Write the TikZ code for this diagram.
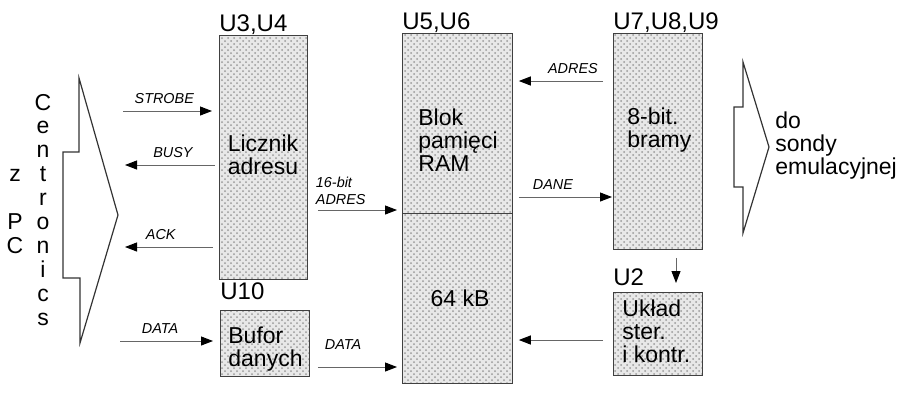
\documentclass[tikz,border=0pt]{standalone}
\usepackage{fontspec}
\setmainfont{Liberation Sans}
\usetikzlibrary{arrows.meta, positioning, patterns, calc}

\begin{document}
\begin{tikzpicture}[
    x=0.5pt, y=-0.5pt,
    blok/.style={draw=black!75, thin, preaction={fill=black!9}, pattern=crosshatch dots, pattern color=black!40, anchor=north west, inner sep=0pt},
    txt/.style={font=\fontsize{11.5}{11.5}\selectfont, align=left, inner sep=0pt},
    num/.style={font=\fontsize{12}{12}\selectfont, anchor=base west, inner sep=0pt},
    lbl/.style={font=\fontsize{7.2}{8.5}\selectfont\itshape, inner sep=0pt, above=3.5pt},
    arr/.style={-{Triangle[length=6pt, width=4.5pt, color=black]}, draw=black!60, line width=0.5pt},
    szyna/.style={draw=black!80, line width=0.6pt, line join=miter}
]
\useasboundingbox (0,0) rectangle (900,398);

% wejscie z PC
\draw[szyna] (79,78) -- (118,215) -- (80,343) -- (80,278) -- (63,278) -- (63,152) -- (79,152) -- cycle;
\foreach \ch [count=\i from 0] in {C,e,n,t,r,o,n,i,c,s}
  \node[txt, anchor=base] (cen\i) at (43,110+23.9*\i) {\ch};
\foreach \ch/\i in {z/3, P/5, C/6}
  \node[txt, anchor=base] (pc\i) at (15,110+23.9*\i) {\ch};

% bloki
\node[blok, minimum width=44pt, minimum height=122pt] (u34) at (219,35) {};
\node[blok, minimum width=55pt, minimum height=90pt] (ramtop) at (402,33) {};
\node[blok, minimum width=55pt, minimum height=85pt] (rambot) at (402,213) {};
\node[blok, minimum width=44.5pt, minimum height=108pt] (u789) at (613,33) {};
\node[blok, minimum width=44.5pt, minimum height=33pt] (u10) at (220,310) {};
\node[blok, minimum width=44.5pt, minimum height=41.5pt] (u2) at (613,292) {};

\node[num] (u34n) at (219,31) {U3,U4};
\node[num] (ramn) at (402,29) {U5,U6};
\node[num] (u789n) at (613,29) {U7,U8,U9};
\node[num] (u10n) at (220,299) {U10};
\node[num] (u2n) at (613,285) {U2};

\node[txt, align=center] (licznik) at (263,155) {Licznik\\adresu};
\node[txt, anchor=west] (pamiec) at (418,140) {Blok\\pamięci\\RAM};
\node[txt] (kb) at (460,298) {64 kB};
\node[txt, anchor=west] (bramy) at (627,130) {8-bit.\\bramy};
\node[txt, anchor=west] (bufor) at (228,349) {Bufor\\danych};
\node[txt, anchor=west] (uklad) at (622,331) {Układ\\ster.\\i kontr.};

% wyjscie do sondy
\draw[szyna] (743,62) -- (769,147) -- (743,233) -- (743,187) -- (734,187) -- (734,107) -- (743,107) -- cycle;
\node[txt, anchor=west] (sonda) at (775,146) {do\\sondy\\emulacyjnej};

% sygnaly
\coordinate (strobe) at (123,111);
\coordinate (busy) at (125,165);
\coordinate (ack) at (125,247);
\coordinate (data) at (120,341);
\draw[arr, shorten >=3.5pt] (strobe) -- (strobe -| u34.west) node[lbl, pos=0.43] {STROBE};
\draw[arr, shorten <=2pt] (busy -| u34.west) -- (busy) node[lbl, pos=0.49] {BUSY};
\draw[arr, shorten <=3pt] (ack -| u34.west) -- (ack) node[lbl, pos=0.62] {ACK};
\draw[arr, shorten >=3.5pt] (data) -- (data -| u10.west) node[lbl, pos=0.4] {DATA};

\coordinate (adr) at (0,210);
\coordinate (dat) at (0,367);
\draw[arr, shorten <=5pt, shorten >=2.5pt] (adr -| u34.east) -- (adr -| ramtop.west)
  node[lbl, pos=0.35, above=2.5pt, align=left] {16-bit\\ADRES};
\draw[arr, shorten <=4pt, shorten >=2.5pt] (dat -| u10.east) -- (dat -| rambot.west)
  node[lbl, pos=0.36, above=8.5pt] {DATA};

\coordinate (adr2) at (0,81);
\coordinate (dane) at (0,197);
\coordinate (ster) at (0,340);
\draw[arr, shorten <=5pt, shorten >=3pt] (adr2 -| u789.west) -- (adr2 -| ramtop.east) node[lbl, pos=0.4] {ADRES};
\draw[arr, shorten <=3pt, shorten >=0.5pt] (dane -| ramtop.east) -- (dane -| u789.west) node[lbl, pos=0.4] {DANE};
\draw[arr, shorten <=5pt, shorten >=3pt] (ster -| u2.west) -- (ster -| rambot.east);
\draw[arr, shorten <=4pt, shorten >=4.5pt] (u789.south -| 676,0) -- (u2.north -| 676,0);
\end{tikzpicture}
\end{document}
